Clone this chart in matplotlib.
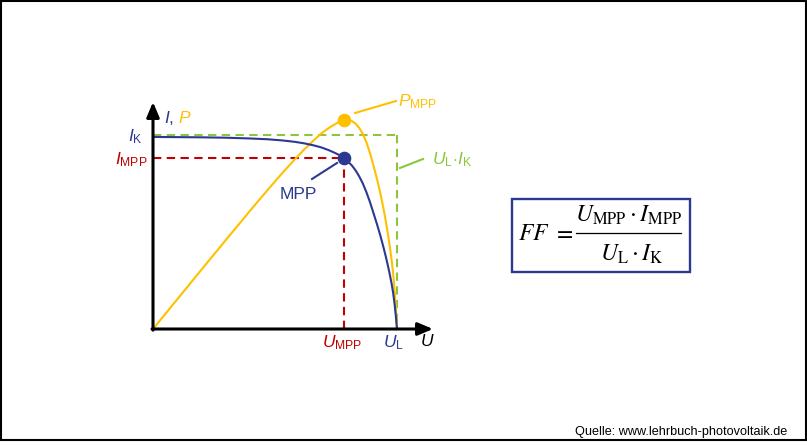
import matplotlib
matplotlib.use('Agg')
import matplotlib.pyplot as plt
from matplotlib.patches import Rectangle

plt.rcParams['font.family'] = ['Liberation Sans', 'DejaVu Sans']
plt.rcParams['mathtext.fontset'] = 'custom'
plt.rcParams['mathtext.rm'] = 'Liberation Sans'
plt.rcParams['mathtext.it'] = 'Liberation Sans:italic'
plt.rcParams['mathtext.bf'] = 'Liberation Sans:bold'

# ---- data (normalised: U_L = 1, I_K = 1) ----
U_L = 1.0
I_K = 1.0
U_MPP = 0.783
I_MPP = 0.883
P_MPP = 1.077

iv_U = [0.0, 0.1, 0.2, 0.3, 0.4, 0.47, 0.53, 0.58, 0.62, 0.66, 0.69, 0.72, 0.745,
        0.765, 0.783, 0.80, 0.815, 0.83, 0.845, 0.86, 0.875, 0.889, 0.903, 0.918,
        0.931, 0.944, 0.954, 0.963, 0.971, 0.978, 0.984, 0.99, 0.995, 1.0]
iv_I = [0.99, 0.989, 0.988, 0.986, 0.982, 0.978, 0.972, 0.965, 0.957, 0.946, 0.936,
        0.922, 0.908, 0.896, 0.883, 0.862, 0.843, 0.818, 0.787, 0.75, 0.704, 0.655,
        0.60, 0.54, 0.485, 0.424, 0.374, 0.325, 0.278, 0.233, 0.188, 0.13, 0.07, 0.0]
pv_U = iv_U
pv_P = [0.0, 0.154, 0.308, 0.461, 0.613, 0.717, 0.804, 0.873, 0.926, 0.974, 1.008,
        1.036, 1.055, 1.069, 1.077, 1.076, 1.072, 1.059, 1.037, 1.006, 0.961, 0.908,
        0.845, 0.773, 0.704, 0.624, 0.557, 0.488, 0.421, 0.355, 0.289, 0.201, 0.109, 0.0]

BLUE = '#2B3990'
YELLOW = '#FFC000'
RED = '#C00000'
GREEN = '#8CC63F'

W, H = 807, 447
fig = plt.figure(figsize=(W / 100, H / 100), dpi=100)

# overlay in pixel coordinates
ov = fig.add_axes([0, 0, 1, 1])
ov.set_xlim(0, W)
ov.set_ylim(H, 0)
ov.axis('off')

# data axes: (0,0) at px (153,329), (1,1) at px (397,135)
ax = fig.add_axes([153 / W, (H - 329) / H, 244 / W, 194 / H])
ax.set_xlim(0, 1)
ax.set_ylim(0, 1)
ax.axis('off')

# dashed guide lines
dash = (0, (4, 2.6))
ax.plot([0, U_MPP], [I_MPP, I_MPP], color=RED, lw=1.5, linestyle=dash, clip_on=False, zorder=2)
ax.plot([U_MPP, U_MPP], [0, I_MPP], color=RED, lw=1.5, linestyle=dash, clip_on=False, zorder=2)
ax.plot([0, U_L], [I_K, I_K], color=GREEN, lw=1.5, linestyle=dash, clip_on=False, zorder=2)
ax.plot([U_L, U_L], [I_K, 0], color=GREEN, lw=1.5, linestyle=dash, clip_on=False, zorder=2)

# curves
ax.plot(pv_U, pv_P, color=YELLOW, lw=1.5, clip_on=False, zorder=3, solid_joinstyle='round')
ax.plot(iv_U, iv_I, color=BLUE, lw=1.5, clip_on=False, zorder=4, solid_joinstyle='round')

# points
ax.plot([U_MPP], [P_MPP], 'o', color=YELLOW, ms=8.8, clip_on=False, zorder=5)
ax.plot([U_MPP], [I_MPP], 'o', color=BLUE, ms=8.8, clip_on=False, zorder=5)

# axes arrows
ap = dict(arrowstyle='-|>,head_length=0.9,head_width=0.38', color='black', lw=2.2,
          mutation_scale=10, shrinkA=0, shrinkB=0)
ax.annotate('', xy=(1.1475, 0), xytext=(-0.004, 0), arrowprops=ap, annotation_clip=False, zorder=6)
ax.annotate('', xy=(0, 1.17), xytext=(0, -0.006), arrowprops=ap, annotation_clip=False, zorder=6)

# leader lines (pixel coords)
ov.plot([355, 396], [113, 101], color=YELLOW, lw=1.5)
ov.plot([400, 423], [168, 159], color=GREEN, lw=1.5)
ov.plot([312, 337], [179, 163], color=BLUE, lw=1.5)

fs = 12.5
# labels
ov.text(143, 141, r'$\mathit{I}_\mathrm{K}$', color=BLUE, fontsize=fs, ha='right', va='baseline')
ov.text(148, 164, r'$\mathit{I}_\mathrm{MPP}$', color=RED, fontsize=fs, ha='right', va='baseline')
ov.text(164, 123, r'$\mathit{I}$,', color=BLUE, fontsize=fs, ha='left', va='baseline')
ov.text(178, 123, r'$\mathit{P}$', color=YELLOW, fontsize=fs, ha='left', va='baseline')
ov.text(342.5, 347, r'$\mathit{U}_\mathrm{MPP}$', color=RED, fontsize=fs, ha='center', va='baseline')
ov.text(393, 347, r'$\mathit{U}_\mathrm{L}$', color=BLUE, fontsize=fs, ha='center', va='baseline')
ov.text(427, 346, r'$\mathit{U}$', color='black', fontsize=fs, ha='center', va='baseline')
ov.text(398, 106, r'$\mathit{P}_\mathrm{MPP}$', color=YELLOW, fontsize=fs, ha='left', va='baseline')
ov.text(432, 164, r'$\mathit{U}_\mathrm{L}\!\cdot\!\mathit{I}_\mathrm{K}$', color=GREEN, fontsize=fs,
        ha='left', va='baseline')
ov.text(298, 199, 'MPP', color=BLUE, fontsize=fs, ha='center', va='baseline')

# formula box
ov.add_patch(Rectangle((512, 198.5), 177.5, 73, fill=False, edgecolor=BLUE, lw=1.7))
ffs = 17
ov.text(518, 239.5, r'$FF$', fontsize=ffs, ha='left', va='baseline', math_fontfamily='stix')
ov.text(563, 239.5, r'$=$', fontsize=ffs, ha='center', va='baseline', math_fontfamily='stix')
ov.text(628.5, 221.5, r'$U_\mathrm{MPP}\cdot I_\mathrm{MPP}$', fontsize=ffs, ha='center',
        va='baseline', math_fontfamily='stix')
ov.plot([576, 681], [233, 233], color='black', lw=0.9)
ov.text(632, 260.5, r'$U_\mathrm{L}\cdot I_\mathrm{K}$', fontsize=ffs, ha='center',
        va='baseline', math_fontfamily='stix')

# source
ov.text(787, 435.5, 'Quelle: www.lehrbuch-photovoltaik.de', fontsize=9.1, ha='right',
        va='baseline', color='black')

# outer border
ov.add_patch(Rectangle((1, 1), 804.5, 438.5, fill=False, edgecolor='black', lw=1.5))

fig.savefig('out.png', dpi=100)
